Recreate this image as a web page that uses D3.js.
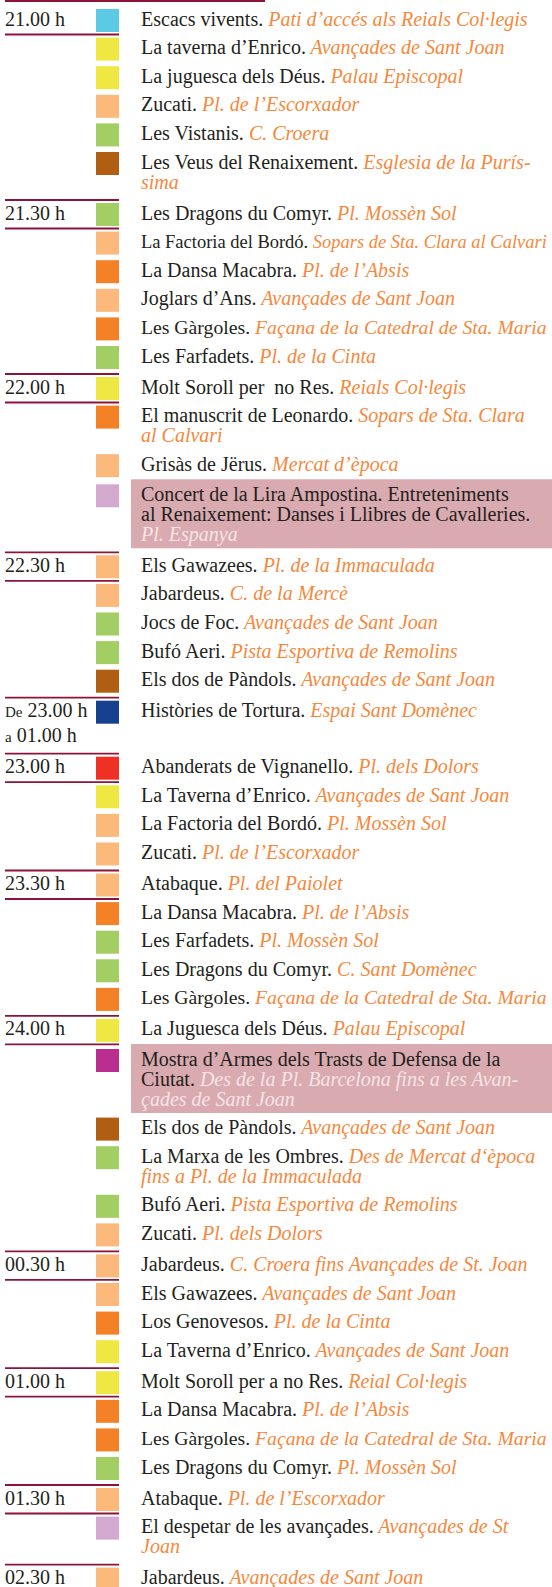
<!DOCTYPE html>
<html>
<head>
<meta charset="utf-8">
<script src="https://cdn.jsdelivr.net/npm/d3@7"></script>
<style>
  html, body { margin: 0; padding: 0; background: #ffffff; }
  svg { display: block; }
  text { font-family: "Liberation Serif", "Times New Roman", serif; white-space: pre; }
</style>
</head>
<body>
<script>
// ---------------- DATA ----------------
const slotLabels = [
  "21.00 h", "21.30 h", "22.00 h", "22.30 h", "{De} 23.00 h|{a} 01.00 h",
  "23.00 h", "23.30 h", "24.00 h", "00.30 h", "01.00 h", "01.30 h", "02.30 h"
];

const eventSlot = [
  0,0,0,0,0,0,
  1,1,1,1,1,1,
  2,2,2,2,
  3,3,3,3,3,
  4,
  5,5,5,5,
  6,6,6,6,6,
  7,7,7,7,7,7,
  8,8,8,8,
  9,9,9,9,
  10,10,
  11
];

const eventNames = [
  "Escacs vivents.", "La taverna d’Enrico.", "La juguesca dels Déus.", "Zucati.", "Les Vistanis.", "Les Veus del Renaixement.",
  "Les Dragons du Comyr.", "La Factoria del Bordó.", "La Dansa Macabra.", "Joglars d’Ans.", "Les Gàrgoles.", "Les Farfadets.",
  "Molt Soroll per  no Res.", "El manuscrit de Leonardo.", "Grisàs de Jërus.", "Concert de la Lira Ampostina. Entreteniments|al Renaixement: Danses i Llibres de Cavalleries.",
  "Els Gawazees.", "Jabardeus.", "Jocs de Foc.", "Bufó Aeri.", "Els dos de Pàndols.",
  "Històries de Tortura.",
  "Abanderats de Vignanello.", "La Taverna d’Enrico.", "La Factoria del Bordó.", "Zucati.",
  "Atabaque.", "La Dansa Macabra.", "Les Farfadets.", "Les Dragons du Comyr.", "Les Gàrgoles.",
  "La Juguesca dels Déus.", "Mostra d’Armes dels Trasts de Defensa de la|Ciutat.", "Els dos de Pàndols.", "La Marxa de les Ombres.", "Bufó Aeri.", "Zucati.",
  "Jabardeus.", "Els Gawazees.", "Los Genovesos.", "La Taverna d’Enrico.",
  "Molt Soroll per a no Res.", "La Dansa Macabra.", "Les Gàrgoles.", "Les Dragons du Comyr.",
  "Atabaque.", "El despetar de les avançades.",
  "Jabardeus."
];

const eventPlaces = [
  "Pati d’accés als Reials Col·legis", "Avançades de Sant Joan", "Palau Episcopal", "Pl. de l’Escorxador", "C. Croera", "Esglesia de la Purís-|sima",
  "Pl. Mossèn Sol", "Sopars de Sta. Clara al Calvari", "Pl. de l’Absis", "Avançades de Sant Joan", "Façana de la Catedral de Sta. Maria", "Pl. de la Cinta",
  "Reials Col·legis", "Sopars de Sta. Clara|al Calvari", "Mercat d’època", "|Pl. Espanya",
  "Pl. de la Immaculada", "C. de la Mercè", "Avançades de Sant Joan", "Pista Esportiva de Remolins", "Avançades de Sant Joan",
  "Espai Sant Domènec",
  "Pl. dels Dolors", "Avançades de Sant Joan", "Pl. Mossèn Sol", "Pl. de l’Escorxador",
  "Pl. del Paiolet", "Pl. de l’Absis", "Pl. Mossèn Sol", "C. Sant Domènec", "Façana de la Catedral de Sta. Maria",
  "Palau Episcopal", "Des de la Pl. Barcelona fins a les Avan-|çades de Sant Joan", "Avançades de Sant Joan", "Des de Mercat d‘època|fins a Pl. de la Immaculada", "Pista Esportiva de Remolins", "Pl. dels Dolors",
  "C. Croera fins Avançades de St. Joan", "Avançades de Sant Joan", "Pl. de la Cinta", "Avançades de Sant Joan",
  "Reial Col·legis", "Pl. de l’Absis", "Façana de la Catedral de Sta. Maria", "Pl. Mossèn Sol",
  "Pl. de l’Escorxador", "Avançades de St|Joan",
  "Avançades de Sant Joan"
];

const eventKinds = [
  "cyan","yellow","yellow","peach","green","brown",
  "green","peach","orange","peach","orange","green",
  "yellow","orange","peach","lilac",
  "peach","peach","green","green","brown",
  "navy",
  "red","yellow","peach","peach",
  "peach","orange","green","green","orange",
  "yellow","magenta","brown","green","green","peach",
  "peach","peach","orange","yellow",
  "yellow","orange","orange","green",
  "peach","lilac",
  "peach"
];

const featuredEvents = [15, 32];

const kindKeys = ["cyan","yellow","peach","green","brown","orange","lilac","navy","red","magenta"];

// ---------------- STYLE ----------------
const kindPalette = ["#5cc9e5","#efe843","#fbb97b","#a2ce64","#b05e11","#f48125","#d4a9cf","#163f8d","#ee3124","#b92e8f"];
const color = d3.scaleOrdinal(kindKeys, kindPalette);

const W = 552, H = 1587;
const INK = "#231f20", PLACE = "#f6883c", PLACE_FEAT = "#f7e4e7", BOX = "#d9aaaf", RULE = "#8c1439";
const FS = 20, FS_PLACE = 20, FS_SMALL = 15;
const X_LABEL = 5, X_SQ = 96, SQ = 23, X_TEXT = 141, X_BOX = 131, RULE_END = 119;
const FIRST_TOP = 9, PITCH = 28.6, LINE = 20, LABEL_LINE = 25, GROUP_GAP = 2.4, BOX_PRE = 1.5;
const BASE = 16.5, BOX_H = 69;

// ---------------- LAYOUT ----------------
function buildLines(name, place) {
  const lines = [[]];
  name.split("|").forEach((s, i) => {
    if (i > 0) lines.push([]);
    if (s) lines[lines.length - 1].push({ t: s, k: "name" });
  });
  place.split("|").forEach((s, i) => {
    if (i > 0) lines.push([]);
    if (s) {
      const cur = lines[lines.length - 1];
      cur.push({ t: (cur.length ? " " : "") + s, k: "place" });
    }
  });
  return lines;
}

const slotCount = d3.rollup(eventSlot, v => v.length, d => d);
const rows = [];
let y = FIRST_TOP;
eventNames.forEach((n, i) => {
  const slot = eventSlot[i];
  const first = i === 0 || eventSlot[i - 1] !== slot;
  if (i > 0 && first) y += GROUP_GAP;
  const feat = featuredEvents.includes(i);
  if (feat) y += BOX_PRE;
  const lines = buildLines(n, eventPlaces[i]);
  const labelLines = first ? slotLabels[slot].split("|") : [];
  const h = PITCH + Math.max((lines.length - 1) * LINE, (Math.max(labelLines.length, 1) - 1) * LABEL_LINE);
  rows.push({ i, slot, first, feat, lines, labelLines, top: y, h, kind: eventKinds[i] });
  y += h;
});

// ---------------- DRAW ----------------
const svg = d3.select("body").append("svg")
  .attr("width", W).attr("height", H)
  .attr("viewBox", `0 0 ${W} ${H}`);

// page top rule
svg.append("line")
  .attr("x1", X_LABEL).attr("x2", 265).attr("y1", 1).attr("y2", 1)
  .attr("stroke", RULE).attr("stroke-width", 2);

// highlight boxes
svg.selectAll("rect.box").data(rows.filter(r => r.feat)).join("rect")
  .attr("class", "box")
  .attr("x", X_BOX).attr("y", r => r.top - 5)
  .attr("width", W - X_BOX).attr("height", BOX_H)
  .attr("fill", BOX);

// group rules
const firsts = rows.filter(r => r.first);
svg.selectAll("line.grp").data(firsts.filter(r => r.i > 0)).join("line")
  .attr("class", "grp")
  .attr("x1", X_LABEL).attr("x2", RULE_END)
  .attr("y1", r => r.top - 3).attr("y2", r => r.top - 3)
  .attr("stroke", RULE).attr("stroke-width", 1.8);

svg.selectAll("line.under").data(firsts.filter(r => slotCount.get(r.slot) > 1)).join("line")
  .attr("class", "under")
  .attr("x1", X_LABEL).attr("x2", RULE_END)
  .attr("y1", r => r.top + 25.5 + (r.labelLines.length - 1) * LABEL_LINE)
  .attr("y2", r => r.top + 25.5 + (r.labelLines.length - 1) * LABEL_LINE)
  .attr("stroke", RULE).attr("stroke-width", 1.8);

// time labels
firsts.forEach(r => {
  r.labelLines.forEach((ln, k) => {
    const t = svg.append("text")
      .attr("x", X_LABEL).attr("y", r.top + BASE + k * LABEL_LINE)
      .attr("font-size", FS).attr("fill", INK);
    const m = ln.match(/^\{(.+?)\}(.*)$/);
    if (m) {
      t.append("tspan").attr("font-size", FS_SMALL).text(m[1]);
      t.append("tspan").text(m[2]);
    } else {
      t.text(ln);
    }
  });
});

// squares
svg.selectAll("rect.sq").data(rows).join("rect")
  .attr("class", "sq")
  .attr("x", X_SQ).attr("y", r => r.top)
  .attr("width", SQ).attr("height", SQ)
  .attr("fill", r => color(r.kind));

// event texts (lines too long for the column are shrunk to fit)
const maxW = W - X_TEXT - 5;
rows.forEach(r => {
  r.lines.forEach((segs, j) => {
    const t = svg.append("text")
      .attr("x", X_TEXT).attr("y", r.top + BASE + j * LINE)
      .attr("font-size", FS);
    const spans = segs.map(s => t.append("tspan")
      .attr("fill", s.k === "name" ? INK : (r.feat ? PLACE_FEAT : PLACE))
      .attr("font-style", s.k === "place" ? "italic" : null)
      .attr("font-size", s.k === "place" ? FS_PLACE : FS)
      .text(s.t));
    const len = t.node().getComputedTextLength();
    if (len > maxW) {
      const ratio = maxW / len;
      t.attr("font-size", FS * ratio);
      spans.forEach((sp, k) => sp.attr("font-size", (segs[k].k === "place" ? FS_PLACE : FS) * ratio));
    }
  });
});
</script>
</body>
</html>
